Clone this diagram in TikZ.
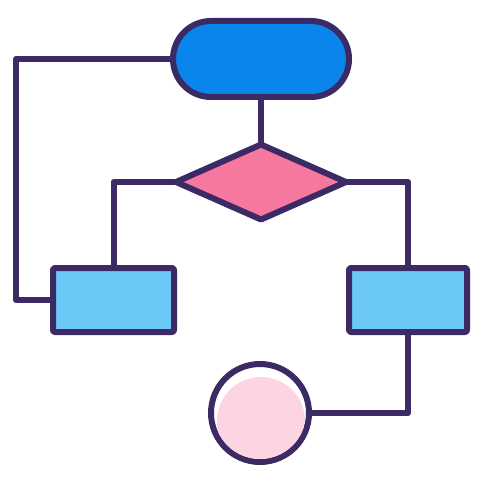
\documentclass[tikz,border=0pt]{standalone}
\usetikzlibrary{shapes.geometric}
\definecolor{ink}{HTML}{3B2A63}
\definecolor{topblue}{HTML}{0A85EC}
\definecolor{boxblue}{HTML}{6BC8F7}
\definecolor{decpink}{HTML}{F7789E}
\definecolor{softpink}{HTML}{FDD5E2}
\tikzset{
  base/.style={draw=ink, line width=6pt, line join=round, inner sep=0pt, outer sep=0pt},
  conn/.style={draw=ink, line width=6pt, line join=round},
  startbox/.style={base, fill=topblue, rectangle, rounded corners=38pt, minimum width=176pt, minimum height=76pt},
  decbox/.style={base, fill=decpink, diamond, minimum width=170pt, minimum height=75pt},
  procbox/.style={base, fill=boxblue, rectangle, rounded corners=2pt, minimum height=64pt},
  endcirc/.style={base, fill=white, circle, minimum size=98pt}
}
\begin{document}
\begin{tikzpicture}[x=1pt,y=-1pt]
\useasboundingbox (0,0) rectangle (500,500);
\node[startbox] (start) at (261,59) {};
\node[decbox] (dec) at (261,182) {};
\node[procbox, minimum width=121pt] (left) at (113.5,300) {};
\node[procbox, minimum width=118pt] (right) at (408,300) {};
\node[endcirc] (end) at (260,413) {};
\begin{scope}
  \clip (end.center) circle (46);
  \fill[softpink] (261,421) circle (44);
\end{scope}
\coordinate (lt) at (16,59);
\coordinate (lb) at (16,300);
\draw[conn] (start.south) -- (dec.north);
\draw[conn] (start.west) -- (lt) -- (lb) -- (left.west);
\draw[conn] (dec.west) -| (left.north);
\draw[conn] (dec.east) -| (right.north);
\draw[conn] (right.south) |- (end.east);
\end{tikzpicture}
\end{document}
